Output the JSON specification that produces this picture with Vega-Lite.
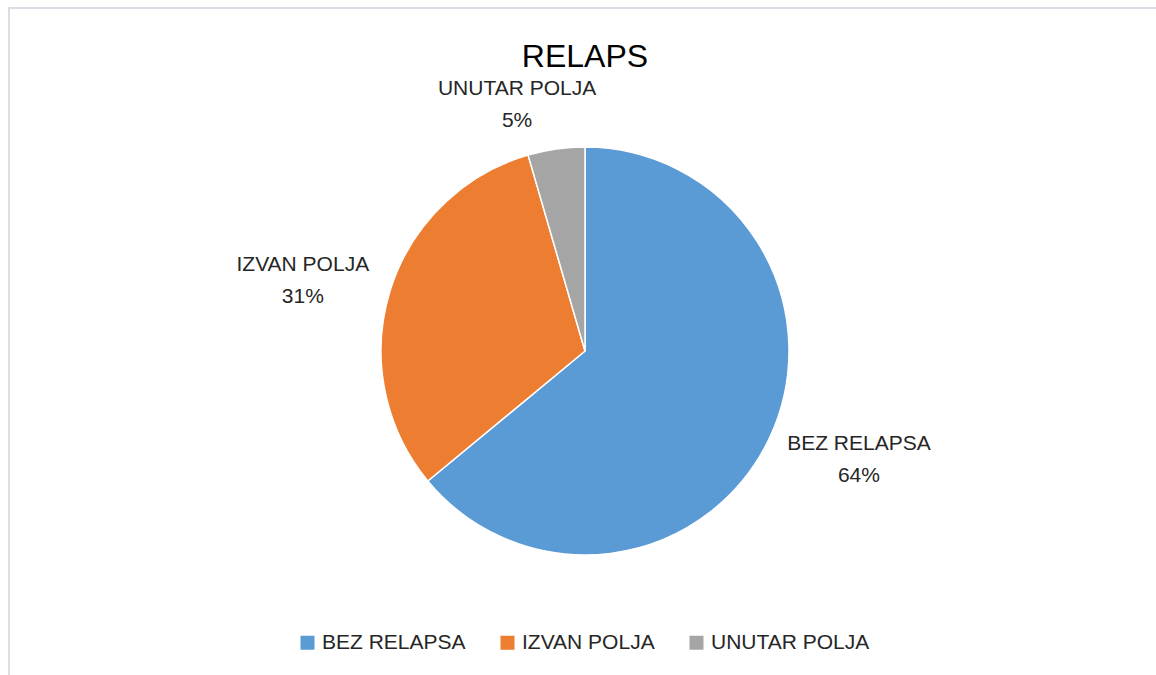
{
  "$schema": "https://vega.github.io/schema/vega-lite/v6.json",
  "width": 1152,
  "height": 686,
  "autosize": {"type": "none"},
  "padding": {"left": 9, "top": 8, "right": -5, "bottom": -19},
  "background": "white",
  "view": {"stroke": "#d9dee6", "strokeWidth": 2},
  "title": {"text": "RELAPS", "fontSize": 32, "font": "Liberation Sans", "fontWeight": "normal", "color": "#000000", "anchor": "middle", "frame": "group", "baseline": "alphabetic", "offset": -91},
  "data": {"values": [
    {"cat": "BEZ RELAPSA", "value": 64, "label": "BEZ RELAPSA\n64%"},
    {"cat": "IZVAN POLJA", "value": 31.5, "label": "IZVAN POLJA\n31%"},
    {"cat": "UNUTAR POLJA", "value": 4.5, "label": "UNUTAR POLJA\n5%"}
  ]},
  "encoding": {
    "theta": {"field": "value", "type": "quantitative", "stack": true}
  },
  "layer": [
    {
      "mark": {"type": "arc", "outerRadius": 204, "stroke": "white", "strokeWidth": 1.5},
      "encoding": {
        "color": {
          "field": "cat", "type": "nominal",
          "scale": {"domain": ["BEZ RELAPSA", "IZVAN POLJA", "UNUTAR POLJA"], "range": ["#5B9BD5", "#ED7D31", "#A5A5A5"]},
          "legend": {"orient": "none", "legendX": 288, "legendY": 624, "direction": "horizontal", "title": null, "symbolType": "square", "symbolSize": 196, "symbolStrokeWidth": 0, "labelFontSize": 21, "labelFont": "Liberation Sans", "labelColor": "#262626", "columnPadding": 31, "labelOffset": 4}
        }
      }
    },
    {
      "mark": {"type": "text", "radius": 295, "dx": 7, "dy": -33, "fontSize": 21, "font": "Liberation Sans", "lineBreak": "\n", "lineHeight": 32, "align": "center", "baseline": "middle", "color": "#262626"},
      "encoding": {
        "detail": {"field": "cat", "type": "nominal"},
        "text": {"condition": {"test": "datum.cat === 'BEZ RELAPSA'", "field": "label"}, "value": ""}
      }
    },
    {
      "mark": {"type": "text", "radius": 290, "dx": -5, "dy": -1, "fontSize": 21, "font": "Liberation Sans", "lineBreak": "\n", "lineHeight": 32, "align": "center", "baseline": "middle", "color": "#262626"},
      "encoding": {
        "detail": {"field": "cat", "type": "nominal"},
        "text": {"condition": {"test": "datum.cat === 'IZVAN POLJA'", "field": "label"}, "value": ""}
      }
    },
    {
      "mark": {"type": "text", "radius": 248, "dx": -33, "dy": -16, "fontSize": 21, "font": "Liberation Sans", "lineBreak": "\n", "lineHeight": 32, "align": "center", "baseline": "middle", "color": "#262626"},
      "encoding": {
        "detail": {"field": "cat", "type": "nominal"},
        "text": {"condition": {"test": "datum.cat === 'UNUTAR POLJA'", "field": "label"}, "value": ""}
      }
    }
  ],
  "config": {"view": {"stroke": "#d9dee6", "strokeWidth": 2}}
}
